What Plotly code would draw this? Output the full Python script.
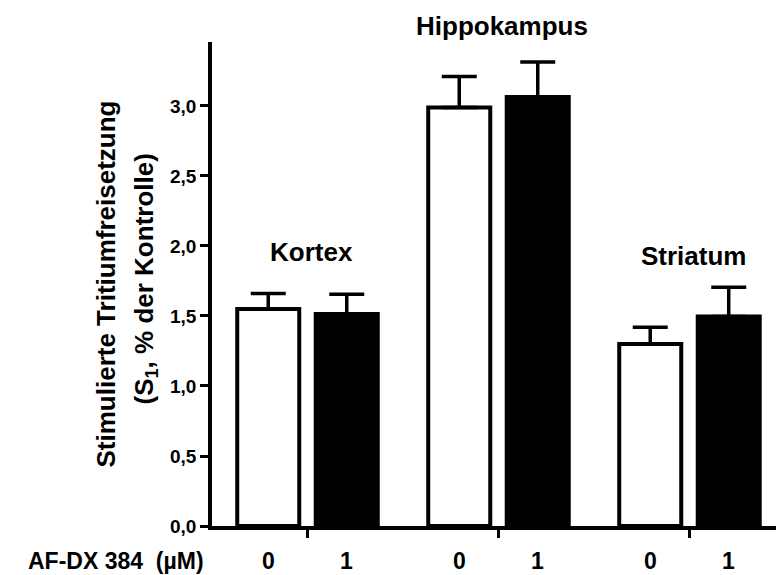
import plotly.graph_objects as go

# Data: stimulated tritium release per brain region, without / with AF-DX 384
regions = ["Kortex", "Hippokampus", "Striatum"]
doses = ["0", "1"]  # AF-DX 384 concentration (µM)
release_ctrl = [1.55, 2.99, 1.30]
sem_ctrl = [0.11, 0.22, 0.12]
release_afdx = [1.515, 3.064, 1.496]
sem_afdx = [0.14, 0.25, 0.21]
y_tick_values = [0.0, 0.5, 1.0, 1.5, 2.0, 2.5, 3.0]
y_tick_labels = ["0,0", "0,5", "1,0", "1,5", "2,0", "2,5", "3,0"]

# Layout constants
W, H = 776, 575
ML, MR, MT, MB = 212, 0, 42, 49
YMAX = 3.457
XMIN, XMAX = -0.5, 2.453
BARGAP = 0.178
BARGROUPGAP = 0.21
FONT = "Liberation Sans, Arial, sans-serif"
LINE_W = 3.5

x_idx = list(range(len(regions)))
half_shift = (1 - BARGAP) / 4  # bar centre offset from group centre


def err(values):
    return dict(type="data", array=values, arrayminus=[0] * len(values),
                symmetric=False, visible=True, color="black",
                thickness=3.5, width=17.5)


fig = go.Figure()
fig.add_trace(go.Bar(
    x=x_idx, y=release_ctrl, name=doses[0],
    marker=dict(color="white", line=dict(color="black", width=4)),
    error_y=err(sem_ctrl),
))
fig.add_trace(go.Bar(
    x=x_idx, y=release_afdx, name=doses[1],
    marker=dict(color="black", line=dict(color="black", width=4)),
    error_y=err(sem_afdx),
))

fig.update_layout(
    width=W, height=H, autosize=False,
    margin=dict(l=ML, r=MR, t=MT, b=MB, pad=0),
    paper_bgcolor="white", plot_bgcolor="white",
    barmode="group", bargap=BARGAP, bargroupgap=BARGROUPGAP,
    showlegend=False,
    font=dict(family=FONT, color="black", weight="bold"),
)

fig.update_xaxes(
    range=[XMIN, XMAX], tickvals=x_idx, showticklabels=False,
    ticks="outside", ticklen=8, tickwidth=3, tickcolor="black",
    showline=True, linecolor="black", linewidth=LINE_W,
    showgrid=False, zeroline=False,
)
fig.update_yaxes(
    range=[0, YMAX], tickvals=y_tick_values, ticktext=y_tick_labels,
    ticks="outside", ticklen=8, tickwidth=3, tickcolor="black",
    tickfont=dict(family=FONT, size=19, color="black", weight="bold"),
    showline=True, linecolor="black", linewidth=LINE_W,
    showgrid=False, zeroline=False,
)

plot_w = W - ML - MR
plot_h = H - MT - MB


def px_x(px):
    return (px - ML) / plot_w


def px_y(px):
    return (H - MB - px) / plot_h


annotations = []

# region names above each group
region_label_y = [1.957, 3.568, 1.928]
for i, name in enumerate(regions):
    annotations.append(dict(
        x=i, xref="x", y=region_label_y[i] / YMAX, yref="paper",
        text=name, showarrow=False, xanchor="center", yanchor="middle",
        xshift=4, font=dict(family=FONT, size=26, color="black", weight="bold"),
    ))

# dose labels under each bar
for i in x_idx:
    for j, d in enumerate(doses):
        annotations.append(dict(
            x=i + (2 * j - 1) * half_shift, xref="x", y=px_y(575), yref="paper",
            text=d, showarrow=False, xanchor="center", yanchor="bottom",
            borderpad=0,
            font=dict(family=FONT, size=23, color="black", weight="bold"),
        ))

annotations.append(dict(
    x=px_x(116), xref="paper", y=px_y(575), yref="paper",
    text="AF-DX 384\u00a0\u00a0(µM)", showarrow=False,
    xanchor="center", yanchor="bottom", borderpad=0,
    font=dict(family=FONT, size=23, color="black", weight="bold"),
))

# y axis title, two rotated lines
annotations.append(dict(
    x=px_x(105.5), xref="paper", y=px_y(284), yref="paper",
    text="Stimulierte Tritiumfreisetzung", showarrow=False, textangle=-90,
    xanchor="center", yanchor="middle",
    font=dict(family=FONT, size=26, color="black", weight="bold"),
))
annotations.append(dict(
    x=px_x(144.5), xref="paper", y=px_y(279), yref="paper",
    text="(S<sub>1</sub>, % der Kontrolle)", showarrow=False, textangle=-90,
    xanchor="center", yanchor="middle",
    font=dict(family=FONT, size=26, color="black", weight="bold"),
))

fig.update_layout(annotations=annotations)

fig.write_html("out.html")
